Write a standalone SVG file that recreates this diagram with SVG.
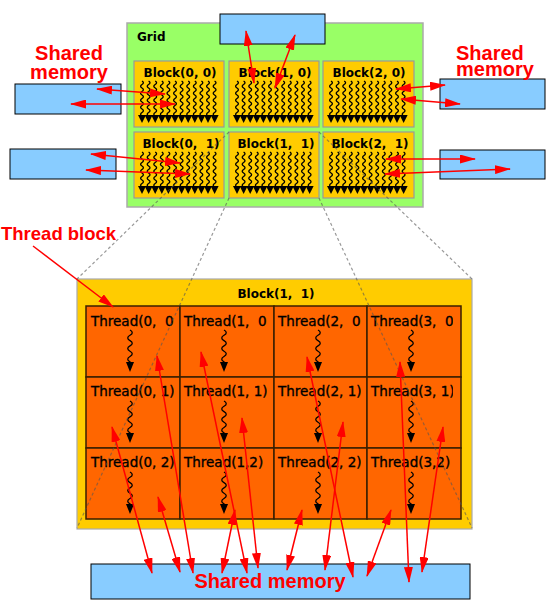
<svg xmlns="http://www.w3.org/2000/svg" xmlns:xlink="http://www.w3.org/1999/xlink" width="546" height="601" viewBox="0 0 546 601">
<style>
.mem{fill:#88ccff;stroke:#000;stroke-width:1}
.blk{fill:#ffcc00;stroke:#999;stroke-width:1.2}
.cell{fill:#ff6600;stroke:#3a1f00;stroke-width:1.5}
.bl{font-family:"DejaVu Sans",sans-serif;font-weight:bold;font-size:12px;fill:#000;white-space:pre}
.th{font-family:"DejaVu Sans",sans-serif;font-size:13.5px;fill:#000;stroke:#000;stroke-width:0.35;white-space:pre}
.red{font-family:"Liberation Sans",Arial,sans-serif;font-weight:bold;font-size:20px;fill:#ff0000}
.wv{fill:none;stroke:#000;stroke-width:1.3}
.dash{fill:none;stroke:#555;stroke-width:1.2;stroke-dasharray:3 2.5;opacity:0.6}
.arr{fill:none;stroke:#ff0000;stroke-width:1.5;marker-start:url(#ah);marker-end:url(#ah)}
</style>
<defs>
<marker id="ah" viewBox="0 0 16 9" markerWidth="16" markerHeight="9" refX="15" refY="4.5" orient="auto-start-reverse" markerUnits="userSpaceOnUse">
<path d="M0,0 L16,4.5 L0,9 z" fill="#ff0000"/>
</marker>
<marker id="ah1" viewBox="0 0 16 9" markerWidth="16" markerHeight="9" refX="15" refY="4.5" orient="auto" markerUnits="userSpaceOnUse">
<path d="M0,0 L16,4.5 L0,9 z" fill="#ff0000"/>
</marker>
<path id="bw" class="wv" d="M0,0 q2.8,1.75 0,3.5 t0,3.5 t0,3.5 t0,3.5 t0,3.5 t0,3.5 t0,3.5 t0,3.5 t0,3.5 t0,3.5"/>
<path id="bt" d="M-4,0 L4,0 L0,8 z" fill="#000"/>
<g id="bth">
<use href="#bw" x="8" y="20"/><use href="#bw" x="14.6" y="20"/><use href="#bw" x="21.2" y="20"/><use href="#bw" x="27.8" y="20"/>
<use href="#bw" x="34.4" y="20"/><use href="#bw" x="41" y="20"/><use href="#bw" x="47.6" y="20"/><use href="#bw" x="54.2" y="20"/>
<use href="#bw" x="60.8" y="20"/><use href="#bw" x="67.4" y="20"/><use href="#bw" x="74" y="20"/><use href="#bw" x="80.6" y="20"/>
<use href="#bt" x="8" y="54"/><use href="#bt" x="14.6" y="54"/><use href="#bt" x="21.2" y="54"/><use href="#bt" x="27.8" y="54"/>
<use href="#bt" x="34.4" y="54"/><use href="#bt" x="41" y="54"/><use href="#bt" x="47.6" y="54"/><use href="#bt" x="54.2" y="54"/>
<use href="#bt" x="60.8" y="54"/><use href="#bt" x="67.4" y="54"/><use href="#bt" x="74" y="54"/><use href="#bt" x="80.6" y="54"/>
</g>
<g id="tsq">
<path class="wv" d="M0,0 q4.5,2.65 0,5.3 t0,5.3 t0,5.3 t0,5.3 t0,5.3 t0,5.3 l0,2"/>
<path d="M-4,32 L4,32 L0,42 z" fill="#000"/>
</g>
<clipPath id="c0"><rect x="86" y="300" width="88" height="230"/></clipPath>
<clipPath id="c1"><rect x="180" y="300" width="87" height="230"/></clipPath>
<clipPath id="c2"><rect x="274" y="300" width="87" height="230"/></clipPath>
<clipPath id="c3"><rect x="367" y="300" width="86" height="230"/></clipPath>
</defs>

<rect width="546" height="601" fill="#fff"/>

<g id="grid">
<rect x="127" y="23" width="296" height="184" fill="#99ff66" stroke="#aaa" stroke-width="1.5"/>
<text class="bl" x="137" y="41">Grid</text>
</g>
<g id="block-0-0"><rect class="blk" x="134" y="61" width="90" height="66"/><text class="bl" x="180" y="77" text-anchor="middle">Block(0, 0)</text><use href="#bth" x="134" y="61"/></g>
<g id="block-1-0"><rect class="blk" x="229" y="61" width="90" height="66"/><text class="bl" x="275" y="77" text-anchor="middle">Block(1, 0)</text><use href="#bth" x="229" y="61"/></g>
<g id="block-2-0"><rect class="blk" x="323" y="61" width="91" height="66"/><text class="bl" x="369" y="77" text-anchor="middle">Block(2, 0)</text><use href="#bth" x="323" y="61"/></g>
<g id="block-0-1"><rect class="blk" x="134" y="132" width="90" height="66"/><text class="bl" x="181" y="148" text-anchor="middle">Block(0,  1)</text><use href="#bth" x="134" y="132"/></g>
<g id="block-1-1"><rect class="blk" x="229" y="132" width="90" height="66"/><text class="bl" x="276" y="148" text-anchor="middle">Block(1,  1)</text><use href="#bth" x="229" y="132"/></g>
<g id="block-2-1"><rect class="blk" x="323" y="132" width="91" height="66"/><text class="bl" x="370" y="148" text-anchor="middle">Block(2,  1)</text><use href="#bth" x="323" y="132"/></g>

<g id="mem-top"><rect class="mem" x="220" y="14" width="105" height="30"/></g>
<g id="mem-left-0"><rect class="mem" x="15" y="84" width="106" height="30"/></g>
<g id="mem-left-1"><rect class="mem" x="10" y="149" width="106" height="30"/></g>
<g id="mem-right-0"><rect class="mem" x="440" y="79" width="105" height="30"/></g>
<g id="mem-right-1"><rect class="mem" x="440" y="150" width="105" height="29"/></g>

<g id="label-left"><text class="red" x="69" y="60" text-anchor="middle">Shared</text><text class="red" x="69" y="79" text-anchor="middle">memory</text></g>
<g id="label-right"><text class="red" x="456" y="60">Shared</text><text class="red" x="456" y="76">memory</text></g>
<g id="label-thread-block"><text class="red" x="1" y="240" style="font-size:18.5px">Thread block</text></g>

<g id="thread-block">
<rect x="77" y="279" width="395" height="250" fill="#ffcc00" stroke="#aaa" stroke-width="1.2"/>
<text class="bl" x="276" y="298" text-anchor="middle">Block(1,  1)</text>
</g>
<g id="threads">
<rect class="cell" x="86" y="306" width="94" height="71"/><rect class="cell" x="180" y="306" width="94" height="71"/><rect class="cell" x="274" y="306" width="93" height="71"/><rect class="cell" x="367" y="306" width="94" height="71"/>
<rect class="cell" x="86" y="377" width="94" height="71"/><rect class="cell" x="180" y="377" width="94" height="71"/><rect class="cell" x="274" y="377" width="93" height="71"/><rect class="cell" x="367" y="377" width="94" height="71"/>
<rect class="cell" x="86" y="448" width="94" height="71"/><rect class="cell" x="180" y="448" width="94" height="71"/><rect class="cell" x="274" y="448" width="93" height="71"/><rect class="cell" x="367" y="448" width="94" height="71"/>
<g id="thread-0-0"><text class="th" x="91" y="326" clip-path="url(#c0)">Thread(0,  0)</text><use href="#tsq" x="130" y="330"/></g>
<g id="thread-1-0"><text class="th" x="184" y="326" clip-path="url(#c1)">Thread(1,  0)</text><use href="#tsq" x="224" y="330"/></g>
<g id="thread-2-0"><text class="th" x="278" y="326" clip-path="url(#c2)">Thread(2,  0)</text><use href="#tsq" x="318" y="330"/></g>
<g id="thread-3-0"><text class="th" x="371" y="326" clip-path="url(#c3)">Thread(3,  0)</text><use href="#tsq" x="411" y="330"/></g>
<g id="thread-0-1"><text class="th" x="91" y="396" clip-path="url(#c0)">Thread(0, 1)</text><use href="#tsq" x="130" y="401"/></g>
<g id="thread-1-1"><text class="th" x="184" y="396" clip-path="url(#c1)">Thread(1, 1)</text><use href="#tsq" x="224" y="401"/></g>
<g id="thread-2-1"><text class="th" x="278" y="396" clip-path="url(#c2)">Thread(2, 1)</text><use href="#tsq" x="318" y="401"/></g>
<g id="thread-3-1"><text class="th" x="371" y="396" clip-path="url(#c3)">Thread(3, 1)</text><use href="#tsq" x="411" y="401"/></g>
<g id="thread-0-2"><text class="th" x="91" y="467" clip-path="url(#c0)">Thread(0, 2)</text><use href="#tsq" x="130" y="472"/></g>
<g id="thread-1-2"><text class="th" x="184" y="467" clip-path="url(#c1)">Thread(1,2)</text><use href="#tsq" x="224" y="472"/></g>
<g id="thread-2-2"><text class="th" x="278" y="467" clip-path="url(#c2)">Thread(2, 2)</text><use href="#tsq" x="318" y="472"/></g>
<g id="thread-3-2"><text class="th" x="371" y="467" clip-path="url(#c3)">Thread(3,2)</text><use href="#tsq" x="411" y="472"/></g>
</g>

<g id="mem-bottom">
<rect class="mem" x="91" y="564" width="379" height="35"/>
<text class="red" x="270" y="588" text-anchor="middle">Shared memory</text>
</g>

<g id="connectors">
<path class="dash" d="M229,132 L77,279"/>
<path class="dash" d="M229,198 L77,528"/>
<path class="dash" d="M319,132 L472,279"/>
<path class="dash" d="M319,198 L472,528"/>
<path d="M33,246 L113,307" fill="none" stroke="#ff0000" stroke-width="1.5" marker-end="url(#ah1)"/>
<path class="arr" d="M97,89 L165,94"/>
<path class="arr" d="M71,104 L175,104"/>
<path class="arr" d="M91,154 L180,163"/>
<path class="arr" d="M86,170 L190,174"/>
<path class="arr" d="M246,31 L254,83"/>
<path class="arr" d="M295,35 L275,88"/>
<path class="arr" d="M396,89 L445,85"/>
<path class="arr" d="M401,99 L460,104"/>
<path class="arr" d="M386,159 L475,159"/>
<path class="arr" d="M385,174 L510,169"/>
<path class="arr" d="M157,356 L193,573"/>
<path class="arr" d="M112,427 L152,573"/>
<path class="arr" d="M158,497 L180,572"/>
<path class="arr" d="M201,352 L247,573"/>
<path class="arr" d="M242,418 L258,568"/>
<path class="arr" d="M235,510 L222,573"/>
<path class="arr" d="M307,357 L353,577"/>
<path class="arr" d="M343,422 L325,570"/>
<path class="arr" d="M302,510 L287,570"/>
<path class="arr" d="M400,362 L409,582"/>
<path class="arr" d="M443,427 L422,572"/>
<path class="arr" d="M391,510 L367,576"/>
</g>
</svg>
